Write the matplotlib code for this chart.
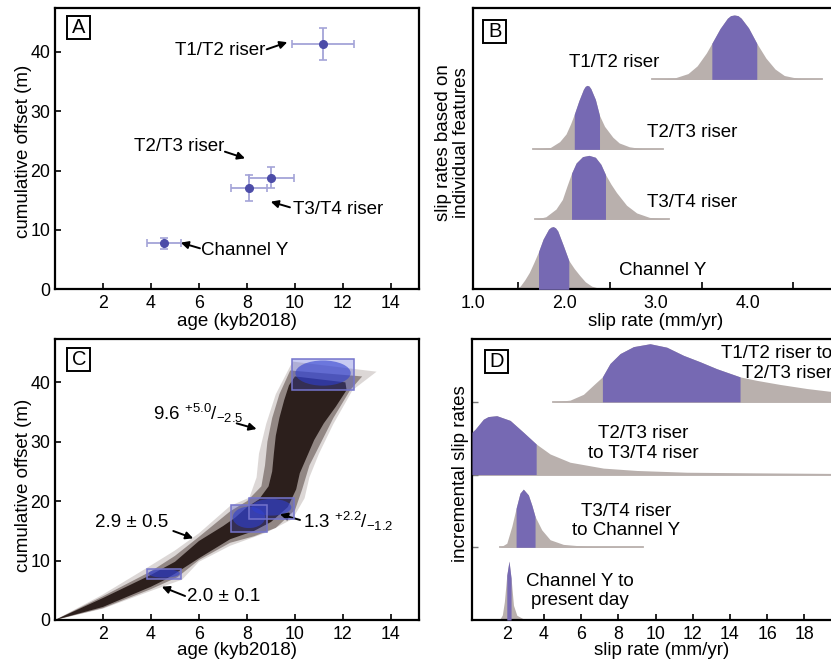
import numpy as np
import matplotlib.pyplot as plt
from matplotlib.patches import Rectangle, Ellipse

plt.rcParams['font.family'] = ['Liberation Sans', 'DejaVu Sans']
plt.rcParams['mathtext.fontset'] = 'custom'
plt.rcParams['mathtext.rm'] = 'Liberation Sans'
plt.rcParams['mathtext.it'] = 'Liberation Sans'
plt.rcParams['mathtext.bf'] = 'Liberation Sans:bold'

# ---- data ----
# panel A / C: age (ka) and cumulative offset (m) of the four features
features = ['Channel Y', 'T3/T4 riser', 'T2/T3 riser', 'T1/T2 riser']
age = [4.55, 8.08, 9.02, 11.17]
age_err = [0.72, 0.75, 0.92, 1.28]
offset = [7.75, 17.05, 18.8, 41.3]
offset_err = [0.9, 2.25, 1.75, 2.65]

# panel C: envelope of the Monte Carlo offset-age paths (dark core, mid tone, faint halo)
core_up_x = [0, 2, 4, 5, 6, 7, 7.5, 8.0, 8.5, 8.9, 9.05, 9.12, 9.2, 9.35, 9.55, 9.75, 10.0]
core_up_y = [0, 3.7, 7.6, 9.8, 13.3, 15.8, 17.2, 19.0, 20.3, 22.5, 25, 28, 31, 34, 37, 39.5, 41.0]
core_lo_x = [0, 2, 4, 4.5, 5, 6, 7.3, 8.3, 9.0, 9.7, 10.05, 10.2, 10.5, 10.8, 11.2, 11.7, 12.15, 12.1]
core_lo_y = [0, 2.2, 5.6, 6.6, 7.8, 10.4, 13.6, 15.0, 16.5, 19.0, 22.0, 24.7, 27.5, 30.3, 33.1, 35.9, 38.7, 40.0]
mid_up_x = [0, 2, 4, 5, 6, 7.3, 8.0, 8.6, 8.75, 8.85, 9.05, 9.35, 9.8]
mid_up_y = [0, 4.0, 8.2, 10.8, 14.0, 18.3, 20.0, 22.5, 26, 30, 34, 38, 42]
mid_lo_x = [0, 2, 4, 5.1, 6, 7.3, 8.3, 9.2, 10.0, 10.3, 10.6, 11.1, 11.6, 12.3, 12.8]
mid_lo_y = [0, 2.0, 5.2, 7.2, 10.1, 13.0, 14.1, 15.5, 18.5, 22, 26, 30, 34, 38.7, 41]
halo_up_x = [0, 2, 3.8, 5, 6, 7.3, 8.1, 8.4, 8.5, 8.8, 9.2, 9.9]
halo_up_y = [0, 4.3, 8.7, 11.7, 14.6, 19.2, 20.6, 24, 28, 33, 38, 43.5]
halo_lo_x = [0, 2, 4, 5.3, 6, 7.3, 8.8, 9.9, 10.4, 10.6, 11.0, 11.6, 12.4, 13.4]
halo_lo_y = [0, 1.9, 4.9, 6.8, 9.8, 12.5, 14.7, 17.0, 20.5, 24, 28, 33, 38.7, 41.8]

# panel B: slip-rate pdfs for individual features (x in mm/yr, relative height)
b_names = ['Channel Y', 'T3/T4 riser', 'T2/T3 riser', 'T1/T2 riser']
b_x = [
    [1.45, 1.52, 1.57, 1.62, 1.67, 1.72, 1.77, 1.83, 1.855, 1.88, 1.905, 1.93, 1.99, 2.05, 2.11, 2.17,
     2.23, 2.30, 2.42],
    [1.68, 1.80, 1.91, 1.98, 2.03, 2.08, 2.13, 2.20, 2.27, 2.34, 2.40, 2.45, 2.51, 2.57, 2.68, 2.79,
     2.93, 3.14],
    [1.66, 1.85, 1.95, 2.02, 2.07, 2.11, 2.16, 2.21, 2.23, 2.25, 2.27, 2.29, 2.34, 2.385, 2.44, 2.53,
     2.60, 2.71, 2.85, 3.08],
    [2.96, 3.20, 3.35, 3.45, 3.55, 3.61, 3.70, 3.78, 3.815, 3.855, 3.895, 3.93, 4.01, 4.10, 4.20, 4.30,
     4.40, 4.55, 4.81],
]
b_f = [
    [0, 0.05, 0.15, 0.27, 0.43, 0.60, 0.80, 0.96, 0.99, 1.0, 0.98, 0.93, 0.70, 0.46, 0.33, 0.22,
     0.12, 0.05, 0],
    [0, 0.04, 0.16, 0.31, 0.52, 0.72, 0.88, 0.98, 1.0, 0.97, 0.86, 0.70, 0.55, 0.42, 0.22, 0.10,
     0.03, 0],
    [0, 0.03, 0.12, 0.24, 0.40, 0.55, 0.76, 0.94, 0.985, 1.0, 0.99, 0.95, 0.78, 0.53, 0.36, 0.19,
     0.10, 0.04, 0.01, 0],
    [0, 0.02, 0.09, 0.21, 0.41, 0.56, 0.79, 0.95, 0.99, 1.0, 0.99, 0.95, 0.80, 0.56, 0.33, 0.16,
     0.06, 0.015, 0],
]
b_band = [(1.72, 2.05), (2.08, 2.45), (2.11, 2.385), (3.61, 4.10)]
b_peak = [0.896, 0.914, 0.914, 0.92]

# panel D: incremental slip-rate pdfs
d_names = ['Channel Y to\npresent day', 'T3/T4 riser\nto Channel Y',
           'T2/T3 riser\nto T3/T4 riser', 'T1/T2 riser to\nT2/T3 riser']
d_x = [
    [1.6, 1.76, 1.87, 2.0, 2.12, 2.23, 2.36, 2.54, 2.89, 3.61],
    [1.64, 2.0, 2.27, 2.5, 2.71, 2.89, 3.16, 3.35, 3.52, 3.88, 4.33, 5.04, 6.3, 9.34],
    [0.13, 0.30, 0.74, 1.0, 1.46, 2.18, 2.89, 3.58, 4.33, 5.40, 7.19, 8.99, 11.68, 15.26, 19.4, 20.5],
    [4.5, 5.4, 6.12, 6.66, 7.14, 7.55, 8.09, 8.81, 9.70, 10.6, 11.5, 12.39, 13.29, 14.54, 15.44, 16.69,
     18.13, 19.43, 20.5],
]
d_f = [
    [0, 0.085, 0.31, 0.76, 1.0, 0.71, 0.25, 0.08, 0.02, 0],
    [0, 0.07, 0.36, 0.67, 0.93, 1.0, 0.9, 0.72, 0.53, 0.3, 0.13, 0.05, 0.015, 0],
    [0.72, 0.77, 0.94, 0.985, 1.0, 0.92, 0.72, 0.52, 0.35, 0.21, 0.11, 0.07, 0.04, 0.03, 0.02, 0.02],
    [0, 0.03, 0.13, 0.29, 0.43, 0.66, 0.83, 0.95, 1.0, 0.94, 0.80, 0.69, 0.57, 0.43, 0.37, 0.30, 0.23,
     0.18, 0.15],
]
d_band = [(2.0, 2.23), (2.5, 3.52), (0.13, 3.58), (7.14, 14.54)]
d_peak = [0.81, 0.80, 0.81, 0.80]

GRAY = '#b9b0ad'
PURPLE = '#7669b3'
FS = 13.5
TFS = 12.8

W, H = 831, 662
fig = plt.figure(figsize=(W / 100, H / 100), dpi=100)


def axes_px(left, top, right, bottom):
    return fig.add_axes([left / W, 1 - bottom / H, (right - left) / W, (bottom - top) / H])


def panel_tag(ax, cx, cy, letter):
    ax.add_patch(Rectangle(((cx - 11.5) / W, 1 - (cy + 11.5) / H), 23 / W, 23 / H,
                           transform=fig.transFigure, fc='white', ec='black', lw=1.4,
                           clip_on=False, zorder=5))
    ax.text(cx / W, 1 - (cy + 0.5) / H, letter, transform=fig.transFigure, ha='center',
            va='center', fontsize=14.5, zorder=6)


def style(ax):
    for s in ax.spines.values():
        s.set_linewidth(1.6)
    ax.tick_params(direction='in', length=4, width=1.2, labelsize=TFS)
    ax.tick_params(axis='x', pad=4)
    ax.tick_params(axis='y', pad=3.5)


def arrow(ax, tail, tip):
    ax.annotate('', xy=tip, xytext=tail,
                arrowprops=dict(arrowstyle='-|>', color='black', lw=1.4,
                                mutation_scale=11, shrinkA=0, shrinkB=0))


def ridge(ax, x, f, base, height, lo, hi):
    x = np.asarray(x, dtype=float)
    y = base + height * np.asarray(f, dtype=float)
    ax.plot([x[0], x[-1]], [base, base], color=GRAY, lw=1.3, zorder=1)
    ax.fill_between(x, base, y, color=GRAY, lw=0, zorder=2)
    m = (x >= lo - 1e-9) & (x <= hi + 1e-9)
    ax.fill_between(x, base, y, where=m, color=PURPLE, lw=0, zorder=3)


# ---------------- panel A ----------------
axA = axes_px(55, 8, 419.3, 289.3)
style(axA)
axA.errorbar(age, offset, xerr=age_err, yerr=offset_err, fmt='none', ecolor='#a4a4d8',
             elinewidth=1.3, capsize=3, capthick=1.2)
axA.plot(age, offset, 'o', color='#4c4ca8', ms=5.5)
axA.set_xlim(0, 15.18)
axA.set_ylim(0, 47.36)
axA.set_xticks(range(2, 15, 2))
axA.set_yticks(range(0, 41, 10))
axA.text(8.75, 40.2, 'T1/T2 riser', ha='right', va='center', fontsize=FS)
arrow(axA, (8.82, 40.4), (9.68, 41.6))
axA.text(7.04, 24.0, 'T2/T3 riser', ha='right', va='center', fontsize=FS)
arrow(axA, (7.08, 23.17), (7.92, 22.05))
axA.text(9.9, 13.47, 'T3/T4 riser', ha='left', va='center', fontsize=FS)
arrow(axA, (9.79, 13.8), (8.99, 14.75))
axA.text(6.08, 6.6, 'Channel Y', ha='left', va='center', fontsize=FS)
arrow(axA, (6.04, 6.9), (5.24, 7.85))
axA.set_xlabel('age (kyb2018)', fontsize=FS, va='center')
axA.xaxis.set_label_coords(0.5, -0.114)
axA.set_ylabel('cumulative offset (m)', fontsize=FS, va='center')
axA.yaxis.set_label_coords(-0.087, 0.49)
panel_tag(axA, 78.8, 27.3, 'A')

# ---------------- panel B ----------------
axB = axes_px(472.5, 8, 839.3, 289.3)
style(axB)
for i in range(4):
    ridge(axB, b_x[i], b_f[i], i, b_peak[i], *b_band[i])
axB.set_xlim(1.0, 5.0)
axB.set_ylim(0, 4.02)
axB.set_xticks([1, 2, 3, 4])
axB.set_xticklabels(['1.0', '2.0', '3.0', '4.0'])
axB.set_xticks([1.5, 2.5, 3.5, 4.5], minor=True)
axB.tick_params(axis='x', which='major', length=0)
axB.tick_params(axis='x', which='minor', direction='in', length=5, width=1.2)
axB.set_yticks([])
b_label_pos = [(3.07, 0.27), (3.40, 1.24), (3.40, 2.24), (2.54, 3.24)]
for name, (tx, ty) in zip(b_names, b_label_pos):
    axB.text(tx, ty, name, ha='center', va='center', fontsize=FS)
axB.set_xlabel('slip rate (mm/yr)', fontsize=FS, va='center')
axB.xaxis.set_label_coords(0.5, -0.114)
axB.set_ylabel('slip rates based on\nindividual features', fontsize=FS, va='center',
               linespacing=1.05)
axB.yaxis.set_label_coords(-0.0545, 0.52)
panel_tag(axB, 494.7, 31.3, 'B')

# ---------------- panel C ----------------
axC = axes_px(55, 339, 419.3, 620)
style(axC)
axC.fill(halo_up_x + halo_lo_x[::-1], halo_up_y + halo_lo_y[::-1], color='#8c7d78',
         alpha=0.3, lw=0, zorder=1)
axC.fill(mid_up_x + mid_lo_x[::-1], mid_up_y + mid_lo_y[::-1], color='#4a3934',
         alpha=0.5, lw=0, zorder=1.5)
axC.fill(core_up_x + core_lo_x[::-1], core_up_y + core_lo_y[::-1], color='#231613',
         alpha=0.92, lw=0, zorder=2)
for a, ae, o, oe in zip(age, age_err, offset, offset_err):
    axC.add_patch(Rectangle((a - ae, o - oe), 2 * ae, 2 * oe, fc='#4a55d6', ec='none',
                            alpha=0.3, zorder=3))
    axC.add_patch(Ellipse((a, o + 0.1 * oe), 1.8 * ae, 1.6 * oe, fc='#2f3fcf', ec='none',
                          alpha=0.6, zorder=3))
    axC.add_patch(Rectangle((a - ae, o - oe), 2 * ae, 2 * oe, fill=False, ec='#7474cc',
                            lw=1.1, zorder=4))
axC.set_xlim(0, 15.18)
axC.set_ylim(0, 47.3)
axC.set_xticks(range(2, 15, 2))
axC.set_yticks(range(0, 41, 10))
axC.text(4.08, 34.8, r'9.6 ${}^{+5.0}/_{-2.5}$', ha='left', va='center', fontsize=FS)
arrow(axC, (7.57, 33.1), (8.4, 32.15))
axC.text(1.67, 16.4, '2.9 ± 0.5', ha='left', va='center', fontsize=FS)
arrow(axC, (4.93, 14.98), (5.76, 13.75))
axC.text(10.35, 16.55, r'1.3 ${}^{+2.2}/_{-1.2}$', ha='left', va='center', fontsize=FS)
arrow(axC, (10.21, 16.84), (9.375, 17.8))
axC.text(5.49, 3.93, '2.0 ± 0.1', ha='left', va='center', fontsize=FS)
arrow(axC, (5.42, 4.04), (4.45, 5.6))
axC.set_xlabel('age (kyb2018)', fontsize=FS, va='center')
axC.xaxis.set_label_coords(0.5, -0.110)
axC.set_ylabel('cumulative offset (m)', fontsize=FS, va='center')
axC.yaxis.set_label_coords(-0.087, 0.48)
panel_tag(axC, 78.8, 359.2, 'C')

# ---------------- panel D ----------------
axD = axes_px(472, 339, 850.9, 620)
style(axD)
for i in range(4):
    ridge(axD, d_x[i], d_f[i], i, d_peak[i], *d_band[i])
axD.set_xlim(0.13, 20.5)
axD.set_ylim(0, 3.865)
axD.set_xticks(range(2, 19, 2))
axD.set_yticks([1, 2, 3])
axD.set_yticklabels([])
axD.tick_params(axis='y', length=4, width=1.0, color='#777777')
d_label_pos = [(5.91, 0.40), (8.39, 1.36), (9.35, 2.43)]
for name, (tx, ty) in zip(d_names[:3], d_label_pos):
    axD.text(tx, ty, name, ha='center', va='center', fontsize=FS, zorder=5)
axD.text(19.5, 3.525, d_names[3], ha='right', va='center', multialignment='right',
         fontsize=FS, zorder=5)
axD.set_xlabel('slip rate (mm/yr)', fontsize=FS, va='center')
axD.xaxis.set_label_coords(0.5, -0.110)
axD.set_ylabel('incremental slip rates', fontsize=FS, va='center')
axD.yaxis.set_label_coords(-0.0296, 0.52)
panel_tag(axD, 496.3, 361.3, 'D')

fig.savefig('out.png', dpi=100)
